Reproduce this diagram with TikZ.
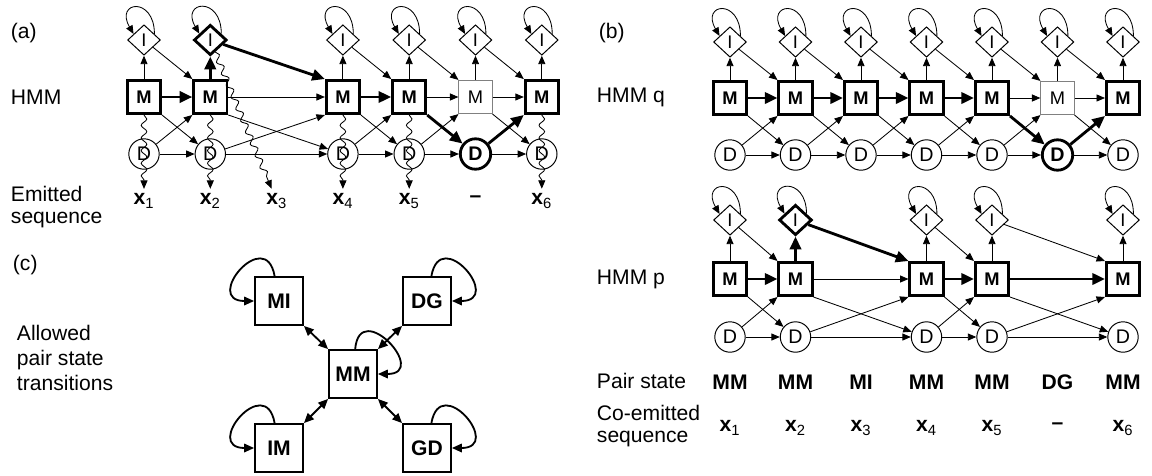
\documentclass[tikz,border=0pt]{standalone}
\usepackage{fontspec}
\setmainfont{Liberation Sans}
\usetikzlibrary{positioning,arrows.meta,shapes.geometric,decorations.pathmorphing}

\tikzset{
  lbl/.style={font=\fontsize{15}{16}\selectfont},
  lblthree/.style={font=\fontsize{15}{17.8}\selectfont},
  sym/.style={font=\bfseries\fontsize{15}{16}\selectfont},
  mbox/.style={draw,rectangle,minimum size=0.83cm,inner sep=0pt,line width=0.7pt,font=\bfseries\fontsize{13}{13}\selectfont},
  mhvy/.style={mbox,line width=2pt},
  mlite/.style={mbox,draw=black!50,font=\fontsize{13}{13}\selectfont},
  ins/.style={draw,diamond,minimum width=0.82cm,minimum height=0.76cm,inner sep=0pt,line width=0.7pt,font=\fontsize{13}{13}\selectfont},
  ihvy/.style={ins,line width=2pt},
  del/.style={draw,circle,minimum size=0.76cm,inner sep=0pt,line width=0.7pt,font=\fontsize{14}{14}\selectfont},
  dhvy/.style={del,line width=2pt,font=\bfseries\fontsize{14}{14}\selectfont},
  tr/.style={-{Triangle[length=6pt,width=5pt]},line width=0.6pt},
  trh/.style={-{Triangle[length=9pt,width=8pt]},line width=2pt},
  selfl/.style={out=90,in=120,distance=0.95cm},
  emit/.style={tr,decorate,decoration={snake,amplitude=2pt,segment length=9pt,post length=6pt}},
  pst/.style={draw,rectangle,minimum size=1.2cm,inner sep=0pt,line width=1.3pt,font=\bfseries\fontsize{15}{15}\selectfont},
  dbl/.style={{Triangle[length=7pt,width=6pt]}-{Triangle[length=7pt,width=6pt]},line width=1.3pt},
  ploop/.style={-{Triangle[length=7pt,width=6pt]},line width=1.3pt}
}

\begin{document}
\begin{tikzpicture}[x=0.025cm,y=-0.025cm]
  \useasboundingbox (0,0) rectangle (1152,475);

  \node[lbl,anchor=west] (tagA) at (6,33) {(a)};
  \node[lbl,anchor=west] (hmmA) at (6,97) {HMM};
  \node[lbl,anchor=west,align=left] (emA) at (6,207) {Emitted\\sequence};
  \foreach \c/\ms/\is/\ds in {1/mhvy/ins/del,2/mhvy/ihvy/del,4/mhvy/ins/del,5/mhvy/ins/del,6/mlite/ins/dhvy,7/mhvy/ins/del} {
    \pgfmathsetmacro{\x}{144+(\c-1)*66.3}
    \node[\is] (ia\c) at (\x,40) {I};
    \node[\ms] (ma\c) at (\x,97) {M};
    \node[\ds] (da\c) at (\x,154) {D};
    \draw[tr] (ia\c.30) to[selfl] (ia\c.150);
  }
  \foreach \c/\t in {1/1,2/2,3/3,4/4,5/5,7/6} {
    \pgfmathsetmacro{\x}{144+(\c-1)*66.3}
    \node[sym] (xa\t) at (\x,201) {x\textsubscript{\normalfont\t}};
  }
  \node[sym] (gapA) at ({144+5*66.3},199) {--};
  \foreach \a/\b/\sI/\sM/\sMD/\sDM in {1/2/tr/trh/tr/tr,2/4/trh/tr/tr/tr,4/5/tr/trh/tr/tr,5/6/tr/tr/trh/tr,6/7/tr/tr/tr/trh} {
    \draw[\sI] (ia\a) -- (ma\b.north west);
    \draw[\sM] (ma\a) -- (ma\b);
    \draw[\sMD] (ma\a.south east) -- (da\b);
    \draw[\sDM] (da\a) -- (ma\b.south west);
    \draw[tr] (da\a) -- (da\b);
  }
  \foreach \c/\s in {1/tr,2/trh,4/tr,5/tr,6/tr,7/tr} \draw[\s] (ma\c) -- (ia\c);
  \foreach \c/\t in {1/1,2/2,4/4,5/5,7/6} \draw[emit] (ma\c) -- (xa\t);
  \draw[emit] (ia2) -- (xa3);

  \node[lbl,anchor=west] (tagB) at (594,33) {(b)};
  \node[lbl,anchor=west] (hmmQ) at (592,97) {HMM q};
  \node[lbl,anchor=west] (hmmP) at (592,279) {HMM p};
  \node[lbl,anchor=west] (pairB) at (592,381) {Pair state};
  \node[lbl,anchor=west,align=left] (coB) at (592,426) {Co-emitted\\sequence};
  \foreach \c/\ms/\ds in {1/mhvy/del,2/mhvy/del,3/mhvy/del,4/mhvy/del,5/mhvy/del,6/mlite/dhvy,7/mhvy/del} {
    \pgfmathsetmacro{\x}{730+(\c-1)*65.5}
    \node[ins] (iq\c) at (\x,42) {I};
    \node[\ms] (mq\c) at (\x,98) {M};
    \node[\ds] (dq\c) at (\x,155) {D};
    \draw[tr] (iq\c.30) to[selfl] (iq\c.150);
    \draw[tr] (mq\c) -- (iq\c);
  }
  \foreach \a/\b/\sM/\sMD/\sDM in {1/2/trh/tr/tr,2/3/trh/tr/tr,3/4/trh/tr/tr,4/5/trh/tr/tr,5/6/tr/trh/tr,6/7/tr/tr/trh} {
    \draw[tr] (iq\a) -- (mq\b.north west);
    \draw[\sM] (mq\a) -- (mq\b);
    \draw[\sMD] (mq\a.south east) -- (dq\b);
    \draw[\sDM] (dq\a) -- (mq\b.south west);
    \draw[tr] (dq\a) -- (dq\b);
  }
  \foreach \c/\is/\s in {1/ins/tr,2/ihvy/trh,4/ins/tr,5/ins/tr,7/ins/tr} {
    \pgfmathsetmacro{\x}{730+(\c-1)*65.5}
    \node[\is] (ip\c) at (\x,220) {I};
    \node[mhvy] (mp\c) at (\x,279) {M};
    \node[del] (dp\c) at (\x,337) {D};
    \draw[tr] (ip\c.30) to[selfl] (ip\c.150);
    \draw[\s] (mp\c) -- (ip\c);
  }
  \foreach \a/\b/\sI/\sM in {1/2/tr/trh,2/4/trh/tr,4/5/tr/trh,5/7/tr/trh} {
    \draw[\sI] (ip\a) -- (mp\b.north west);
    \draw[\sM] (mp\a) -- (mp\b);
    \draw[tr] (mp\a.south east) -- (dp\b);
    \draw[tr] (dp\a) -- (mp\b.south west);
    \draw[tr] (dp\a) -- (dp\b);
  }
  \foreach \c/\p in {1/MM,2/MM,3/MI,4/MM,5/MM,6/DG,7/MM} {
    \pgfmathsetmacro{\x}{730+(\c-1)*65.5}
    \node[sym] (ps\c) at (\x,382) {\p};
  }
  \foreach \c/\t in {1/1,2/2,3/3,4/4,5/5,7/6} {
    \pgfmathsetmacro{\x}{730+(\c-1)*65.5}
    \node[sym] (xb\t) at (\x,428) {x\textsubscript{\normalfont\t}};
  }
  \node[sym] (gapB) at ({730+5*65.5},426) {--};

  \node[lbl,anchor=west] (tagC) at (8,265) {(c)};
  \node[lblthree,anchor=west,align=left] (allow) at (12,358) {Allowed\\pair state\\transitions};
  \node[pst] (mi) at (279,301) {MI};
  \node[pst] (dg) at (427,301) {DG};
  \node[pst] (mm) at (353,374) {MM};
  \node[pst] (im) at (279,448) {IM};
  \node[pst] (gd) at (427,448) {GD};
  \draw[dbl] (mi.south east) -- (mm.north west);
  \draw[dbl] (dg.south west) -- (mm.north east);
  \draw[dbl] (im.north east) -- (mm.south west);
  \draw[dbl] (gd.north west) -- (mm.south east);
  \draw[ploop] (mi) to[out=100,in=180,distance=1.3cm] (mi);
  \draw[ploop] (im) to[out=100,in=180,distance=1.3cm] (im);
  \draw[ploop] (dg) to[out=80,in=0,distance=1.3cm] (dg);
  \draw[ploop] (gd) to[out=80,in=0,distance=1.3cm] (gd);
  \draw[ploop] (mm) to[out=85,in=0,distance=1.3cm] (mm);
\end{tikzpicture}
\end{document}
